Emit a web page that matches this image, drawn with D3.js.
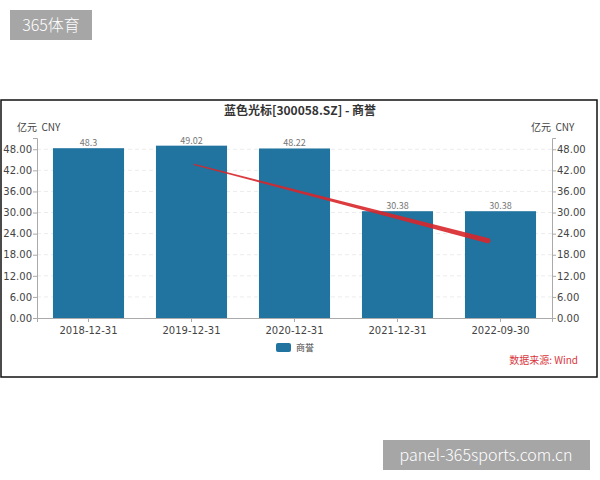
<!DOCTYPE html>
<html>
<head>
<meta charset="utf-8">
<script src="https://cdn.jsdelivr.net/npm/d3@7"></script>
<style>
  body { margin: 0; background: #fff; }
  svg { display: block; font-family: "Noto Sans CJK SC", "DejaVu Sans", sans-serif; }
  .unit { white-space: pre; }
</style>
</head>
<body>
<svg id="chart" width="600" height="480"></svg>
<script>
// Chart data
const periods = ["2018-12-31", "2019-12-31", "2020-12-31", "2021-12-31", "2022-09-30"];
const goodwill = [48.3, 49.02, 48.22, 30.38, 30.38];
const tickValues = [0, 6, 12, 18, 24, 30, 36, 42, 48];
// hand-drawn red trend arrow, in data terms: [period, value, offset within band]
const arrowStart = ["2019-12-31", 43.7, 0.53];
const arrowEnd = ["2022-09-30", 21.9, 0.34];

const svg = d3.select("#chart");
const margin = {top: 138, bottom: 162, left: 37, right: 48};
const plotW = 600 - margin.left - margin.right;
const plotH = 480 - margin.top - margin.bottom;
const barColor = "#21749f";

// watermarks
svg.append("rect").attr("x", 10).attr("y", 10).attr("width", 82).attr("height", 30).attr("fill", "#a6a6a6");
svg.append("text").attr("x", 51).attr("y", 31).attr("text-anchor", "middle")
    .attr("fill", "#fff").attr("font-size", 16).attr("font-weight", 300).text("365体育");
svg.append("rect").attr("x", 383).attr("y", 440).attr("width", 207).attr("height", 30).attr("fill", "#a6a6a6");
svg.append("text").attr("x", 486).attr("y", 461).attr("text-anchor", "middle")
    .attr("fill", "#fff").attr("font-size", 16).attr("font-weight", 300).text("panel-365sports.com.cn");

// frame
svg.append("rect").attr("x", 1).attr("y", 100).attr("width", 596).attr("height", 277)
    .attr("fill", "none").attr("stroke", "#111").attr("stroke-width", 1.5);

// title
svg.append("text").attr("x", 300).attr("y", 115).attr("text-anchor", "middle")
    .attr("font-size", 12).attr("font-weight", "bold").attr("fill", "#333")
    .text("蓝色光标[300058.SZ] - 商誉");

const g = svg.append("g").attr("transform", `translate(${margin.left}, ${margin.top})`);

const x = d3.scaleBand().domain(periods).range([0, plotW]).paddingInner(0.31).paddingOuter(0.155);
const y = d3.scaleLinear().domain([0, 51.2]).range([plotH, 0]);

// gridlines
g.append("g").selectAll("line").data(tickValues.filter(d => d > 0)).enter().append("line")
    .attr("x1", 0).attr("x2", plotW)
    .attr("y1", d => y(d)).attr("y2", d => y(d))
    .attr("stroke", "#ececec").attr("stroke-dasharray", "4,3");

// bars
g.selectAll("rect.bar").data(goodwill).enter().append("rect")
    .attr("class", "bar")
    .attr("x", (d, i) => x(periods[i]))
    .attr("y", d => y(d))
    .attr("width", x.bandwidth())
    .attr("height", d => y(0) - y(d))
    .attr("fill", barColor);

// value labels
g.selectAll("text.val").data(goodwill).enter().append("text")
    .attr("class", "val")
    .attr("x", (d, i) => x(periods[i]) + x.bandwidth() / 2)
    .attr("y", d => y(d) - 2)
    .attr("text-anchor", "middle").attr("font-size", 9).attr("fill", "#777")
    .text(d => d);

// axes
const yLeft = d3.axisLeft(y).tickValues(tickValues).tickFormat(d3.format(".2f")).tickSize(4).tickPadding(1);
const yRight = d3.axisRight(y).tickValues(tickValues).tickFormat(d3.format(".2f")).tickSize(4).tickPadding(1);
const xAxis = d3.axisBottom(x).tickSize(4).tickPadding(5);

[g.append("g").call(yLeft),
 g.append("g").attr("transform", `translate(${plotW}, 0)`).call(yRight),
 g.append("g").attr("transform", `translate(0, ${plotH})`).call(xAxis)].forEach(ax => {
    ax.select(".domain").attr("stroke", "#aaa");
    ax.selectAll(".tick line").attr("stroke", "#aaa");
    ax.selectAll("text").attr("fill", "#444").attr("font-size", 10).attr("font-family", "'DejaVu Sans', sans-serif");
});

// unit labels
svg.append("text").attr("class", "unit").attr("x", 17).attr("y", 131).attr("font-size", 10).attr("fill", "#444").text("亿元  CNY");
svg.append("text").attr("class", "unit").attr("x", 531).attr("y", 131).attr("font-size", 10).attr("fill", "#444").text("亿元  CNY");

// legend
svg.append("rect").attr("x", 276).attr("y", 343).attr("width", 15).attr("height", 9).attr("rx", 2).attr("fill", barColor);
svg.append("text").attr("x", 296).attr("y", 351).attr("font-size", 9).attr("fill", "#444").text("商誉");

// source
svg.append("text").attr("x", 578).attr("y", 364).attr("text-anchor", "end")
    .attr("font-size", 10).attr("fill", "#d9363e").text("数据来源: Wind");

// red trend arrow, tapered from thin to thick
const x0 = x(arrowStart[0]) + x.bandwidth() * arrowStart[2], y0 = y(arrowStart[1]);
const x1 = x(arrowEnd[0]) + x.bandwidth() * arrowEnd[2], y1 = y(arrowEnd[1]);
const len = Math.hypot(x1 - x0, y1 - y0);
const nx = -(y1 - y0) / len, ny = (x1 - x0) / len;
const w0 = 0.6, w1 = 2.6;
g.append("path")
    .attr("d", `M${x0 + nx * w0},${y0 + ny * w0} L${x1 + nx * w1},${y1 + ny * w1} L${x1 + (x1 - x0) / len * 1.5},${y1 + (y1 - y0) / len * 1.5} L${x1 - nx * w1},${y1 - ny * w1} L${x0 - nx * w0},${y0 - ny * w0} Z`)
    .attr("fill", "#d8262a").attr("opacity", 0.9);
</script>
</body>
</html>
